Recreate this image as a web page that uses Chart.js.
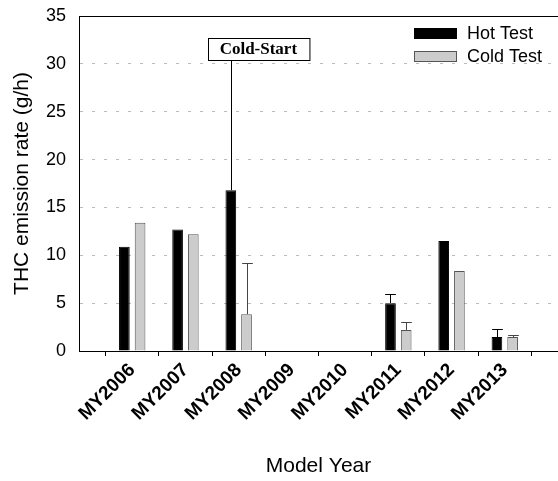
<!DOCTYPE html>
<html>
<head>
<meta charset="utf-8">
<script src="https://cdn.jsdelivr.net/npm/chart.js@4.4.1/dist/chart.umd.min.js"></script>
<style>
  body { margin: 0; background: #fff; }
  #wrap { width: 558px; height: 481px; }
</style>
</head>
<body>
<div id="wrap"><canvas id="chart" width="558" height="481"></canvas></div>
<script>
// model years on the x axis
const years = [2006, 2007, 2008, 2009, 2010, 2011, 2012, 2013];
// THC emission rate (g/h)
const hotTest = [10.9, 12.7, 16.8, null, null, 5.0, 11.5, 1.45];
const coldTest = [13.4, 12.2, 3.85, null, null, 2.2, 8.35, 1.45];
// upper error bars
const hotErr = [0, 0, 15.2, 0, 0, 1.0, 0, 0.82];
const coldErr = [0, 0, 5.35, 0, 0, 0.83, 0, 0.25];
const yTicks = [0, 5, 10, 15, 20, 25, 30, 35];

const sans = "'Liberation Sans', Arial, sans-serif";

function toPoints(vals) {
    return years.map((y, i) => ({ x: y, y: vals[i] }));
}

// draws upper error bars on top of each bar
const errorBars = {
    id: 'errorBars',
    afterDatasetsDraw(chart) {
        const ctx = chart.ctx;
        const yScale = chart.scales.y;
        [hotErr, coldErr].forEach((errs, di) => {
            const meta = chart.getDatasetMeta(di);
            const vals = di === 0 ? hotTest : coldTest;
            ctx.save();
            ctx.strokeStyle = di === 0 ? '#000' : '#444';
            ctx.lineWidth = 1;
            meta.data.forEach((bar, i) => {
                if (vals[i] == null || !errs[i]) return;
                const x = Math.round(bar.x) + 0.5;
                const y0 = yScale.getPixelForValue(vals[i]);
                const y1 = Math.round(yScale.getPixelForValue(vals[i] + errs[i])) + 0.5;
                const half = bar.width / 2;
                ctx.beginPath();
                ctx.moveTo(x, y0);
                ctx.lineTo(x, y1);
                ctx.moveTo(x - half, y1);
                ctx.lineTo(x + half, y1);
                ctx.stroke();
            });
            ctx.restore();
        });
    }
};

// top frame line, "Cold-Start" label and the legend box
const extras = {
    id: 'extras',
    afterDraw(chart) {
        const ctx = chart.ctx;
        const a = chart.chartArea;
        const xs = chart.scales.x, ys = chart.scales.y;
        ctx.save();
        ctx.strokeStyle = '#000';
        ctx.lineWidth = 1;
        ctx.beginPath();
        ctx.moveTo(a.left, Math.round(a.top) + 0.5);
        ctx.lineTo(a.right, Math.round(a.top) + 0.5);
        ctx.stroke();

        // annotation
        const cx = xs.getPixelForValue(2008.37);
        const cy = ys.getPixelForValue(31.6);
        ctx.font = "bold 17px 'Liberation Serif', 'Times New Roman', serif";
        const label = 'Cold-Start';
        const w = ctx.measureText(label).width + 24;
        const h = 22;
        const bx = Math.round(cx - w / 2) + 0.5, by = Math.round(cy - h / 2) + 0.5;
        ctx.fillStyle = '#fff';
        ctx.fillRect(bx, by, w, h);
        ctx.strokeRect(bx, by, w, h);
        ctx.fillStyle = '#000';
        ctx.textAlign = 'center';
        ctx.textBaseline = 'middle';
        ctx.fillText(label, cx, cy + 1);

        // legend
        const lx = a.right - 144, ly = a.top + 12;
        ctx.font = '18px ' + sans;
        ctx.textAlign = 'left';
        chart.data.datasets.forEach((ds, i) => {
            const top = ly + i * 23;
            ctx.fillStyle = ds.backgroundColor;
            ctx.fillRect(lx, top, 43, 11);
            ctx.strokeStyle = ds.borderColor;
            ctx.strokeRect(lx + 0.5, top + 0.5, 42, 10);
            ctx.fillStyle = '#000';
            ctx.fillText(ds.label, lx + 53, top + 6);
        });
        ctx.restore();
    }
};

new Chart(document.getElementById('chart'), {
    type: 'bar',
    data: {
        datasets: [
            {
                label: 'Hot Test',
                data: toPoints(hotTest),
                backgroundColor: '#000000',
                borderColor: '#000000',
                borderWidth: 1
            },
            {
                label: 'Cold Test',
                data: toPoints(coldTest),
                backgroundColor: '#cccccc',
                borderColor: '#555555',
                borderWidth: 1
            }
        ]
    },
    options: {
        responsive: false,
        animation: false,
        layout: { padding: 0 },
        categoryPercentage: 0.59,
        barPercentage: 0.68,
        plugins: {
            legend: { display: false },
            tooltip: { enabled: false }
        },
        scales: {
            x: {
                type: 'linear',
                min: 2005,
                max: 2014,
                offset: false,
                afterBuildTicks: scale => {
                    scale.ticks = years.map(v => ({ value: v }));
                },
                afterFit: scale => { scale.height = 130; },
                ticks: {
                    autoSkip: false,
                    minRotation: 45,
                    maxRotation: 45,
                    padding: 3,
                    color: '#000',
                    font: { family: sans, size: 19, weight: 'bold' },
                    callback: v => 'MY' + v
                },
                grid: {
                    drawOnChartArea: false,
                    drawTicks: true,
                    tickLength: 5,
                    color: '#000'
                },
                border: { display: true, color: '#000', width: 1 },
                title: {
                    display: true,
                    text: 'Model Year',
                    color: '#000',
                    font: { family: sans, size: 21 },
                    padding: { top: 2, bottom: 2 }
                }
            },
            y: {
                min: 0,
                max: 35,
                afterBuildTicks: scale => {
                    scale.ticks = yTicks.map(v => ({ value: v }));
                },
                afterFit: scale => {
                    scale.width = 79;
                    scale.paddingTop = 16;
                    scale.paddingBottom = 0;
                },
                ticks: {
                    padding: 13,
                    color: '#000',
                    font: { family: sans, size: 18 }
                },
                grid: {
                    drawTicks: false,
                    color: ctx => (ctx.tick && (ctx.tick.value === 0 || ctx.tick.value === 35)) ? 'rgba(0,0,0,0)' : '#bbbbbb',
                    lineWidth: 1,
                    borderDash: [3, 9]
                },
                border: { display: true, color: '#000', width: 1, dash: [3, 9] },
                title: {
                    display: true,
                    text: 'THC emission rate (g/h)',
                    color: '#000',
                    font: { family: sans, size: 21 },
                    padding: { top: 10, bottom: 4 }
                }
            }
        }
    },
    plugins: [errorBars, extras]
});
</script>
</body>
</html>
